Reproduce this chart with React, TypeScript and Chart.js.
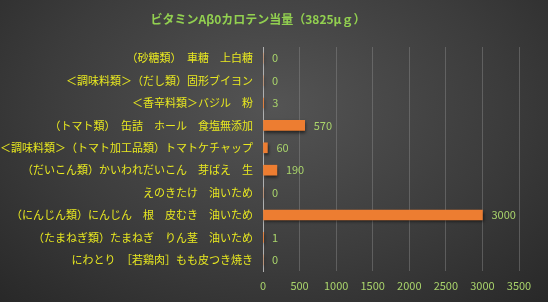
import React, { useEffect, useRef } from "react";
import { Chart, registerables } from "chart.js";

Chart.register(...registerables);

const TITLE = "ビタミンAβ0カロテン当量（3825μｇ）";
const categories = [
  "（砂糖類）　車糖　上白糖",
  "＜調味料類＞（だし類）固形ブイヨン",
  "＜香辛料類＞バジル　粉",
  "（トマト類）　缶詰　ホール　食塩無添加",
  "＜調味料類＞（トマト加工品類）トマトケチャップ",
  "（だいこん類）かいわれだいこん　芽ばえ　生",
  "えのきたけ　油いため",
  "（にんじん類）にんじん　根　皮むき　油いため",
  "（たまねぎ類）たまねぎ　りん茎　油いため",
  "にわとり　［若鶏肉］もも皮つき焼き",
];
const values = [0, 0, 3, 570, 60, 190, 0, 3000, 1, 0];
const xTicks = [0, 500, 1000, 1500, 2000, 2500, 3000, 3500];

const FONT = "'Noto Sans CJK JP', 'Noto Sans', sans-serif";

export default function App() {
  const ref = useRef<HTMLCanvasElement | null>(null);
  useEffect(() => {
    const canvas = ref.current!;
    const overlay = {
      id: "overlay",
      beforeDatasetsDraw(chart: any) {
        const ctx = chart.ctx;
        ctx.save();
        ctx.shadowColor = "rgba(0,0,0,0.55)";
        ctx.shadowOffsetX = 1;
        ctx.shadowOffsetY = 2;
        ctx.shadowBlur = 3;
      },
      afterDatasetsDraw(chart: any) {
        chart.ctx.restore();
        const ctx = chart.ctx;
        const meta = chart.getDatasetMeta(0);
        ctx.save();
        ctx.font = `11px ${FONT}`;
        ctx.fillStyle = "#a9d46b";
        ctx.textAlign = "left";
        ctx.textBaseline = "middle";
        meta.data.forEach((bar: any, i: number) => {
          ctx.fillText(String(values[i]), bar.x + 9, bar.y);
        });
        ctx.restore();
      },
      afterDraw(chart: any) {
        const ctx = chart.ctx;
        ctx.save();
        ctx.font = `bold 12px ${FONT}`;
        ctx.fillStyle = "#92d050";
        ctx.textAlign = "center";
        ctx.textBaseline = "middle";
        ctx.fillText(TITLE, 258, 19);
        ctx.restore();
      },
    };
    const chart = new Chart(canvas, {
      type: "bar",
      data: {
        labels: categories,
        datasets: [
          {
            data: values,
            backgroundColor: "#ed7d31",
            borderWidth: 0,
            barThickness: 10,
          },
        ],
      },
      options: {
        indexAxis: "y",
        animation: false,
        responsive: false,
        maintainAspectRatio: false,
        layout: { padding: { top: 47, right: 29, left: 0, bottom: 0 } },
        plugins: {
          legend: { display: false },
          title: { display: false },
          tooltip: { enabled: false },
        },
        scales: {
          x: {
            min: 0,
            max: 3500,
            afterBuildTicks(scale: any) {
              scale.ticks = xTicks.map((v) => ({ value: v }));
            },
            afterFit(scale: any) {
              scale.height = 31;
            },
            grid: {
              color: "rgba(140,140,140,0.45)",
              lineWidth: 1,
              drawTicks: false,
            },
            border: { display: false },
            ticks: {
              color: "#a9d46b",
              font: { family: FONT, size: 11 },
              padding: 8,
              callback: (v: any) => String(v),
            },
          },
          y: {
            afterFit(scale: any) {
              scale.width = 263;
            },
            grid: { display: false, drawTicks: false },
            border: { display: true, color: "#b0b0b0", width: 1 },
            ticks: {
              color: "#e8e820",
              font: { family: FONT, size: 11 },
              padding: 10,
              autoSkip: false,
            },
          },
        },
      },
      plugins: [overlay],
    });
    return () => chart.destroy();
  }, []);
  return (
    <div
      style={{
        position: "fixed",
        left: 0,
        top: 0,
        width: 548,
        height: 302,
        background:
          "radial-gradient(ellipse 75% 95% at 50% 35%, #545454 0%, #3c3c3c 55%, #262626 100%)",
      }}
    >
      <canvas ref={ref} width={548} height={302} style={{ display: "block" }} />
    </div>
  );
}
